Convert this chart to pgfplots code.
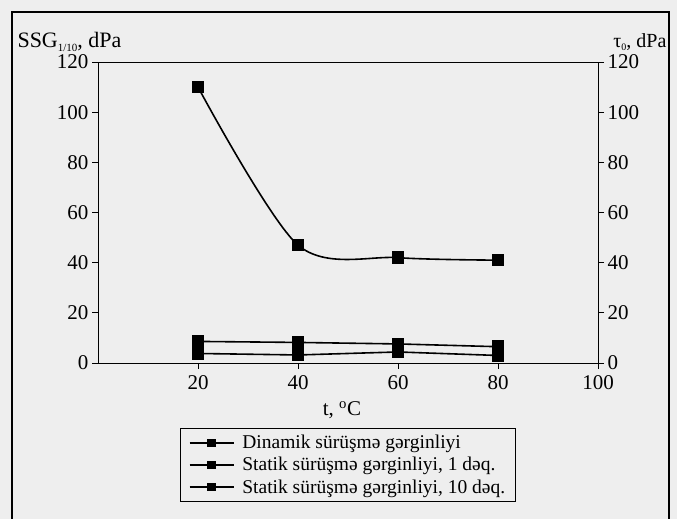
\documentclass[border=0pt]{standalone}
\usepackage{pgfplots}
\pgfplotsset{compat=1.18}
\usepackage{fontspec}
\setmainfont{Liberation Serif}
\definecolor{paper}{RGB}{238,238,238}

\begin{document}
\begin{tikzpicture}[x=1pt,y=1pt]
\useasboundingbox (0,0) rectangle (677,519);
\fill[paper] (0,0) rectangle (677,519);
\draw[line width=1.3pt] (12,-5) -- (12,507) -- (669,507) -- (669,-5);

\begin{axis}[
    scale only axis, width=500pt, height=301pt,
    at={(98pt,156pt)}, anchor=south west,
    xmin=0, xmax=100, ymin=0, ymax=120,
    xtick={20,40,...,100}, ytick={0,20,...,120},
    xtick pos=bottom, ytick pos=left,
    tick align=outside, major tick length=6pt,
    tick style={black, line width=0.8pt},
    axis line style={line width=0.8pt},
    tick label style={font=\fontsize{21}{24}\selectfont},
    xticklabel style={yshift=-3pt},
    /pgf/number format/assume math mode=true,
    legend cell align=left,
    legend style={at={(0.5,-0.216)}, anchor=north, draw=black, line width=0.8pt,
        font=\fontsize{19.5}{22}\selectfont, fill=paper, row sep=3pt,
        inner xsep=8pt, inner ysep=5pt,
        /tikz/every odd column/.append style={column sep=6pt}},
    legend image code/.code={\draw[mark repeat=2,mark phase=2,#1,mark size=3.5pt]
        plot coordinates {(0pt,0pt) (22pt,0pt) (44pt,0pt)};},
    ]

\addplot[smooth, black, line width=1.6pt, mark=square*, mark size=5.5pt] coordinates {
    (20,110)
    (40,47)
    (60,42)
    (80,41)
};
\addlegendentry{Dinamik sürüşmə gərginliyi}

\addplot[black, line width=1.6pt, mark=square*, mark size=5.5pt] coordinates {
    (20,3.8)
    (40,3.2)
    (60,4.4)
    (80,3.0)
};
\addlegendentry{Statik sürüşmə gərginliyi, 1 dəq.}

\addplot[black, line width=1.6pt, mark=square*, mark size=5.5pt] coordinates {
    (20,8.6)
    (40,8.2)
    (60,7.6)
    (80,6.5)
};
\addlegendentry{Statik sürüşmə gərginliyi, 10 dəq.}
\end{axis}

\begin{axis}[
    scale only axis, width=500pt, height=301pt,
    at={(98pt,156pt)}, anchor=south west,
    xmin=0, xmax=100, ymin=0, ymax=120,
    hide x axis, axis y line*=right,
    ytick={0,20,...,120},
    tick align=outside, major tick length=6pt,
    tick style={black, line width=0.8pt},
    axis line style={line width=0.8pt, -},
    tick label style={font=\fontsize{21}{24}\selectfont},
    /pgf/number format/assume math mode=true,
    ]
\end{axis}

\node[anchor=west, font=\fontsize{22}{24}\selectfont] at (14,477)
    {SSG\raisebox{-0.35ex}{\fontsize{11}{11}\selectfont 1/10}, dPa};
\node[anchor=east, font=\fontsize{20}{24}\selectfont] at (670,477)
    {τ\raisebox{-0.35ex}{\fontsize{10}{10}\selectfont 0}, dPa};
\node[font=\fontsize{21}{24}\selectfont] at (342,109) {t, \textsuperscript{o}C};
\end{tikzpicture}
\end{document}
